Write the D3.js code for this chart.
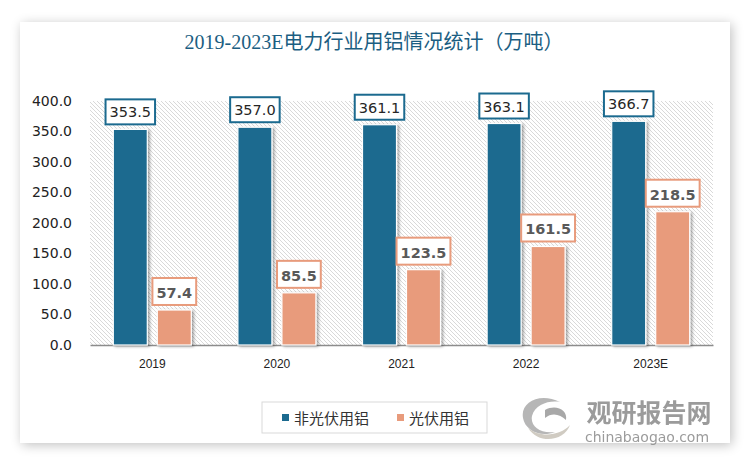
<!DOCTYPE html>
<html><head><meta charset="utf-8">
<script src="https://cdn.jsdelivr.net/npm/d3@7"></script>
<style>body{margin:0;background:#fff}svg{display:block}</style>
</head><body>
<svg id="c" width="750" height="461"></svg>
<script>
const categories = ["2019","2020","2021","2022","2023E"];
const nonPV = [353.5,357.0,361.1,363.1,366.7];
const pv = [57.4,85.5,123.5,161.5,218.5];
const seriesNames = ["非光伏用铝","光伏用铝"];
const yTicks = [0,50,100,150,200,250,300,350,400];
const title = "2019-2023E电力行业用铝情况统计（万吨）";

const colors = ["#1b6a8f","#e89b7c"];
const svg = d3.select("#c");
const defs = svg.append("defs");
const sh = defs.append("filter").attr("id","cardShadow").attr("x","-10%").attr("y","-10%").attr("width","120%").attr("height","120%");
sh.append("feGaussianBlur").attr("in","SourceAlpha").attr("stdDeviation",6);
sh.append("feOffset").attr("dx",2).attr("dy",2).attr("result","b");
sh.append("feComponentTransfer").append("feFuncA").attr("type","linear").attr("slope",0.25);
const m = sh.append("feMerge"); m.append("feMergeNode"); m.append("feMergeNode").attr("in","SourceGraphic");
const bs = defs.append("filter").attr("id","barShadow").attr("x","-30%").attr("y","-10%").attr("width","160%").attr("height","120%");
bs.append("feGaussianBlur").attr("in","SourceAlpha").attr("stdDeviation",1.5);
bs.append("feOffset").attr("dx",2).attr("dy",1);
bs.append("feComponentTransfer").append("feFuncA").attr("type","linear").attr("slope",0.35);
const m2 = bs.append("feMerge"); m2.append("feMergeNode"); m2.append("feMergeNode").attr("in","SourceGraphic");
const pat = defs.append("pattern").attr("id","hatch").attr("patternUnits","userSpaceOnUse").attr("width",4).attr("height",4);
pat.append("rect").attr("width",4).attr("height",4).attr("fill","#fff");
pat.append("path").attr("d","M-1,-1 L5,5 M-1,3 L1,5 M3,-1 L5,1").attr("stroke","#d9d9d9").attr("stroke-width",1);

// card
svg.append("rect").attr("x",20).attr("y",22).attr("width",710).attr("height",421).attr("fill","#fff").attr("filter","url(#cardShadow)");

svg.append("text").attr("x",374).attr("y",49).attr("text-anchor","middle")
  .attr("font-family","'Liberation Serif','Noto Sans CJK SC',serif").attr("font-size",20)
  .attr("fill","#1b5e82").text(title);

const x0 = d3.scaleBand().domain(categories).range([90,713]);
const y = d3.scaleLinear().domain([0,400]).range([345,101]);
const barW = 34, gap = 10;

svg.append("rect").attr("x",90).attr("y",y(400)).attr("width",623).attr("height",y(0)-y(400)).attr("fill","url(#hatch)");

// y axis labels
const yAxis = d3.axisLeft(y).tickValues(yTicks).tickFormat(d3.format(".1f")).tickSize(0).tickPadding(0);
const ya = svg.append("g").attr("transform","translate(72,0)").call(yAxis);
ya.select(".domain").remove();
ya.selectAll("text").attr("font-family","'DejaVu Sans',sans-serif").attr("font-size",14).attr("fill","#222");

const xAxis = d3.axisBottom(x0).tickSize(0).tickPadding(14);
const xa = svg.append("g").attr("transform","translate(0,345)").call(xAxis);
xa.select(".domain").attr("stroke","#8c8c8c").attr("stroke-width",1.5);
xa.selectAll("text").attr("font-family","'Liberation Sans',sans-serif").attr("font-size",12).attr("fill","#222");

const series = [nonPV, pv];
series.forEach((vals,si)=>{
  const g = svg.append("g");
  categories.forEach((c,i)=>{
    const cx = x0(c) + x0.bandwidth()/2;
    const bx = si===0 ? cx - gap/2 - barW : cx + gap/2;
    g.append("rect").attr("x",bx).attr("y",y(vals[i])).attr("width",barW).attr("height",y(0)-y(vals[i]))
      .attr("fill",colors[si]).attr("stroke","#fff").attr("stroke-width",1.2).attr("filter","url(#barShadow)");
  });
});
series.forEach((vals,si)=>{
  categories.forEach((c,i)=>{
    const cx = x0(c) + x0.bandwidth()/2;
    const bcx = si===0 ? cx - gap/2 - barW/2 : cx + gap/2 + barW/2;
    const lg = svg.append("g");
    const bottom = y(vals[i]) - 5;
    const t = lg.append("text").attr("x",bcx).attr("y",bottom-7).attr("text-anchor","middle")
      .attr("font-family","'DejaVu Sans',sans-serif").attr("font-size",14.5)
      .attr("font-weight", si===0 ? "normal" : "bold")
      .attr("fill", si===0 ? "#262626" : "#595959").text(vals[i].toFixed(1));
    const bb = t.node().getBBox();
    const h = si===0 ? 25 : 27;
    lg.insert("rect","text").attr("x",bb.x-4).attr("y",bottom-h).attr("width",bb.width+8).attr("height",h)
      .attr("fill","#fff").attr("stroke",colors[si]).attr("stroke-width",2);
  });
});

// legend
svg.append("rect").attr("x",262).attr("y",402).attr("width",225).attr("height",31).attr("fill","#fff").attr("stroke","#d9d9d9").attr("stroke-width",1);
const legX = [282,397];
seriesNames.forEach((n,i)=>{
  svg.append("rect").attr("x",legX[i]).attr("y",414).attr("width",7).attr("height",7).attr("fill",colors[i]);
  svg.append("text").attr("x",legX[i]+12).attr("y",424).attr("font-family","'Noto Sans CJK SC',sans-serif")
    .attr("font-size",15).attr("fill","#333").text(n);
});

// watermark
const wm = svg.append("g").attr("opacity",0.85);
wm.append("path").attr("d","M560,402 C540,392 520,402 523,418 C525,430 540,438 555,432 C540,434 530,426 532,416 C535,404 550,400 560,402 Z").attr("fill","#aaa");
wm.append("path").attr("d","M528,428 C540,446 565,440 570,425 C560,436 540,438 528,428 Z").attr("fill","#c8c3b8");
wm.append("path").attr("d","M545,410 C556,404 568,410 566,420 C560,414 552,412 545,418 Z").attr("fill","#999");
wm.append("text").attr("x",649).attr("y",422).attr("text-anchor","middle").attr("font-family","'Noto Sans CJK SC',sans-serif")
  .attr("font-weight","bold").attr("font-size",25).attr("fill","#8a8a8a").text("观研报告网");
wm.append("text").attr("x",647).attr("y",442).attr("text-anchor","middle").attr("font-family","'DejaVu Sans',sans-serif")
  .attr("font-size",14).attr("fill","#8a8a8a").text("chinabaogao.com");
</script>
</body></html>
